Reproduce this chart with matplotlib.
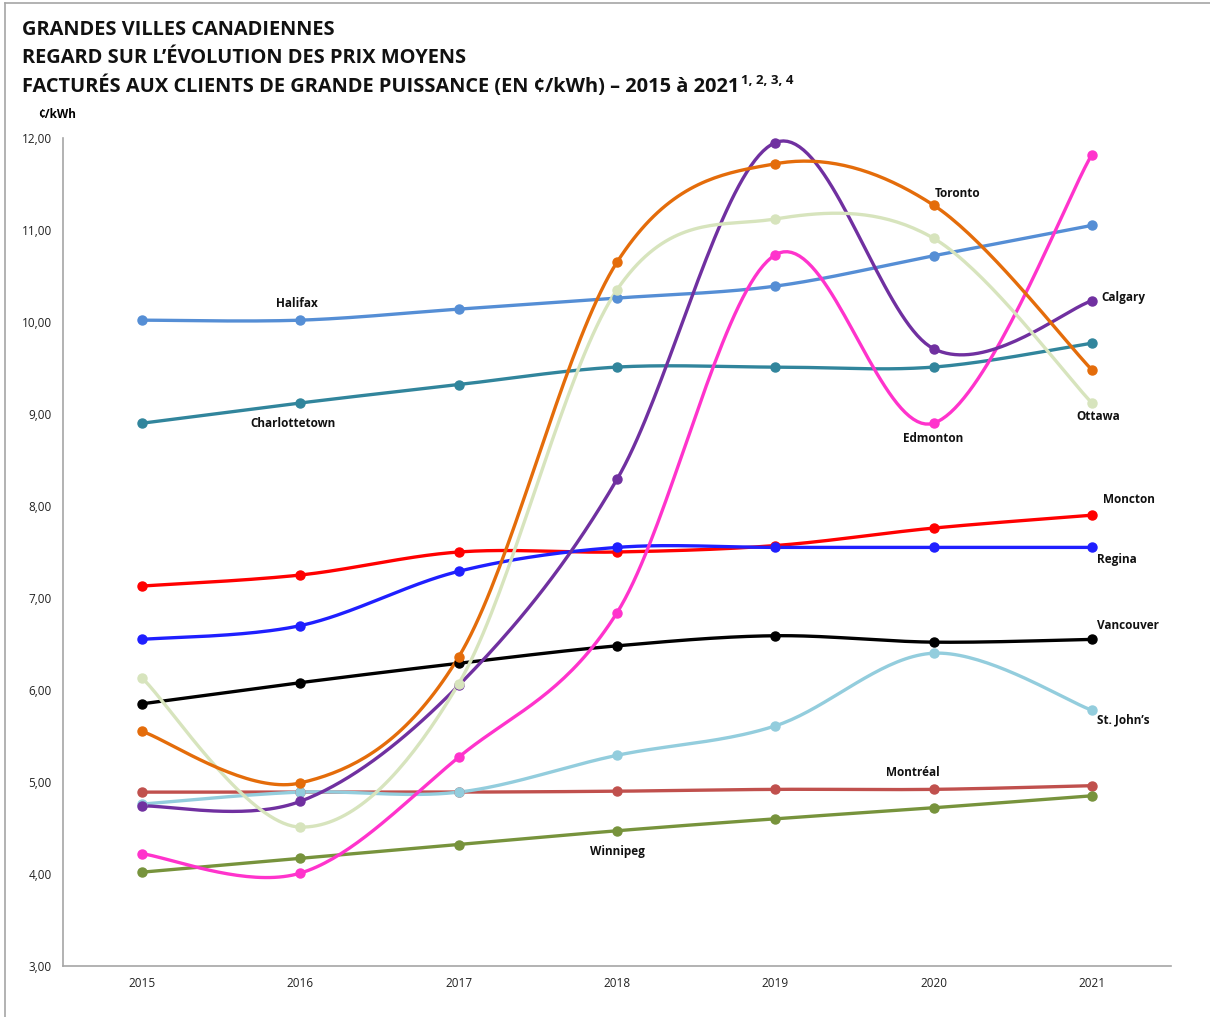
import matplotlib
matplotlib.use("Agg")
import matplotlib.pyplot as plt
import numpy as np
from matplotlib.lines import Line2D

YEARS = ["2015", "2016", "2017", "2018", "2019", "2020", "2021"]

HALIFAX = [10.02, 10.02, 10.14, 10.26, 10.39, 10.72, 11.05]
CHARLOTTETOWN = [8.90, 9.12, 9.32, 9.51, 9.51, 9.51, 9.77]
TORONTO = [5.55, 4.99, 6.36, 10.65, 11.72, 11.27, 9.48]
OTTAWA = [6.13, 4.51, 6.07, 10.35, 11.12, 10.91, 9.12]
CALGARY = [4.74, 4.79, 6.05, 8.29, 11.95, 9.71, 10.23]
EDMONTON = [4.22, 4.01, 5.27, 6.84, 10.73, 8.90, 11.82]
MONCTON = [7.13, 7.25, 7.50, 7.50, 7.57, 7.76, 7.90]
REGINA = [6.55, 6.70, 7.29, 7.55, 7.55, 7.55, 7.55]
VANCOUVER = [5.85, 6.08, 6.29, 6.48, 6.59, 6.52, 6.55]
ST_JOHNS = [4.76, 4.89, 4.89, 5.29, 5.61, 6.40, 5.78]
MONTREAL = [4.89, 4.89, 4.89, 4.90, 4.92, 4.92, 4.96]
WINNIPEG = [4.02, 4.17, 4.32, 4.47, 4.60, 4.72, 4.85]

SERIES = [
    ("Montréal", MONTREAL, "#C0504D"),
    ("Winnipeg", WINNIPEG, "#77933C"),
    ("St. John\u2019s", ST_JOHNS, "#93CDDD"),
    ("Vancouver", VANCOUVER, "#000000"),
    ("Moncton", MONCTON, "#FF0000"),
    ("Regina", REGINA, "#1F1FFF"),
    ("Charlottetown", CHARLOTTETOWN, "#31859C"),
    ("Halifax", HALIFAX, "#558ED5"),
    ("Edmonton", EDMONTON, "#FF33CC"),
    ("Calgary", CALGARY, "#7030A0"),
    ("Ottawa", OTTAWA, "#D7E4BD"),
    ("Toronto", TORONTO, "#E46C0A"),
]

# name -> (x index, y value, horizontal alignment)
LABELS = {
    "Halifax": (0.98, 10.20, "center"),
    "Charlottetown": (0.95, 8.90, "center"),
    "Toronto": (5.01, 11.40, "left"),
    "Calgary": (6.06, 10.27, "left"),
    "Ottawa": (6.04, 8.97, "center"),
    "Edmonton": (5.0, 8.73, "center"),
    "Moncton": (6.07, 8.07, "left"),
    "Regina": (6.03, 7.42, "left"),
    "Vancouver": (6.03, 6.70, "left"),
    "St. John\u2019s": (6.03, 5.68, "left"),
    "Montréal": (4.87, 5.10, "center"),
    "Winnipeg": (3.0, 4.25, "center"),
}

FONT = ["Open Sans", "DejaVu Sans"]
plt.rcParams["font.family"] = FONT


def smooth(xs, ys, n=40):
    # bezier segments with catmull-rom style control points (tension 1/6)
    pts = np.column_stack([xs, ys]).astype(float)
    out = [pts[0]]
    t = np.linspace(0, 1, n)[1:, None]
    for i in range(len(pts) - 1):
        p0 = pts[max(i - 1, 0)]
        p1 = pts[i]
        p2 = pts[i + 1]
        p3 = pts[min(i + 2, len(pts) - 1)]
        c1 = p1 + (p2 - p0) / 6.0
        c2 = p2 - (p3 - p1) / 6.0
        seg = ((1 - t) ** 3) * p1 + 3 * ((1 - t) ** 2) * t * c1 + 3 * (1 - t) * t ** 2 * c2 + t ** 3 * p2
        out.extend(seg)
    out = np.array(out)
    return out[:, 0], out[:, 1]


W, H = 1210, 1017
fig = plt.figure(figsize=(W / 100, H / 100), dpi=100)
ax = fig.add_axes([63 / W, (H - 966) / H, (1171 - 63) / W, (966 - 138) / H])

x = np.arange(len(YEARS))
for name, vals, color in SERIES:
    sx, sy = smooth(x, vals)
    ax.plot(sx, sy, color=color, lw=2.4, solid_capstyle="round", zorder=2)
    ax.plot(x, vals, "o", color=color, ms=6.5, zorder=3)

for name, (lx, ly, ha) in LABELS.items():
    ax.text(lx, ly, name, ha=ha, va="center", fontsize=8.5, fontweight="bold", color="#111111")

ax.set_xlim(-0.5, len(YEARS) - 0.5)
ax.set_ylim(3, 12)
ax.set_xticks(x)
ax.set_xticklabels(YEARS)
ax.set_yticks(np.arange(3, 13))
ax.set_yticklabels([f"{v},00" for v in range(3, 13)])
ax.tick_params(axis="y", length=0, labelsize=8.5, colors="#222222", pad=8)
ax.tick_params(axis="x", length=0, labelsize=8.5, colors="#222222", pad=8)
for side in ("top", "right"):
    ax.spines[side].set_visible(False)
for side in ("left", "bottom"):
    ax.spines[side].set_color("#A6A6A6")
    ax.spines[side].set_linewidth(1.2)

fig.text(38 / W, 1 - 115 / H, "\u00a2/kWh", fontsize=8.5, fontweight="bold", va="center")

title_lines = [
    "GRANDES VILLES CANADIENNES",
    "REGARD SUR L\u2019ÉVOLUTION DES PRIX MOYENS",
    "FACTURÉS AUX CLIENTS DE GRANDE PUISSANCE (EN \u00a2/kWh) \u2013 2015 à 2021",
]
last = None
for i, line in enumerate(title_lines):
    last = fig.text(22 / W, 1 - (30 + 28 * i) / H, line, fontsize=14.4, fontweight="bold",
                    va="center", color="#111111")
fig.canvas.draw()
bb = last.get_window_extent()
fig.text(bb.x1 / W + 0.001, 1 - 81 / H, "1, 2, 3, 4", fontsize=9.5, fontweight="bold",
         va="center", color="#111111")

# chart frame, top and left edges
fig.add_artist(Line2D([5 / W, 5 / W], [0, 1 - 3 / H], transform=fig.transFigure, color="#A6A6A6", lw=1.2))
fig.add_artist(Line2D([5 / W, 1], [1 - 3 / H, 1 - 3 / H], transform=fig.transFigure, color="#A6A6A6", lw=1.2))

fig.savefig("out.png", dpi=100)
